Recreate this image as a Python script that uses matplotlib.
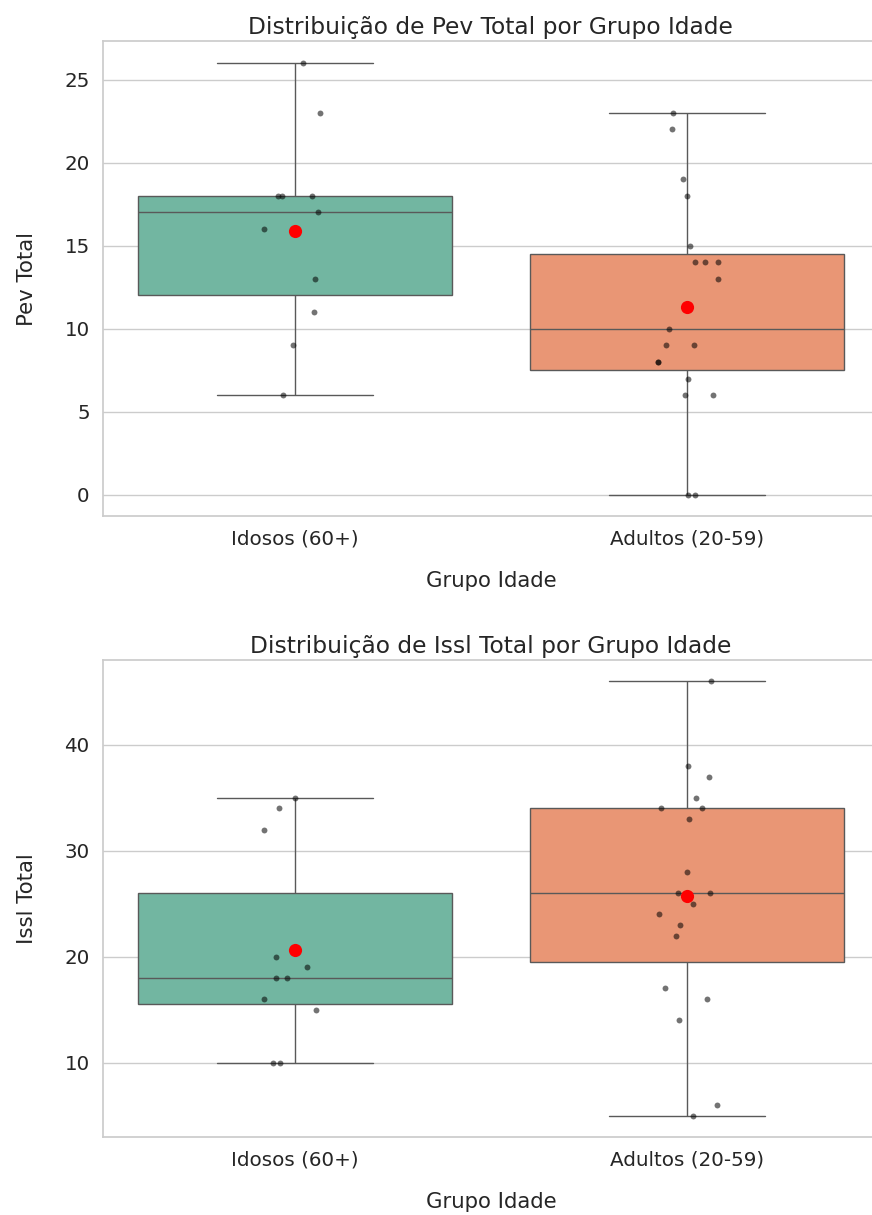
import numpy as np
import pandas as pd
import matplotlib
matplotlib.use("Agg")
import matplotlib.pyplot as plt
import seaborn as sns

# Age groups and the individual scores per group
groups = ["Idosos (60+)", "Adultos (20-59)"]
pev_idosos = [26, 23, 18, 18, 18, 17, 16, 13, 11, 9, 6]
pev_adultos = [23, 22, 19, 18, 15, 14, 14, 14, 13, 10, 9, 9, 8, 8, 7, 6, 6, 0, 0]
issl_idosos = [35, 34, 32, 20, 19, 18, 18, 16, 15, 10, 10]
issl_adultos = [46, 38, 37, 35, 34, 34, 33, 28, 26, 26, 25, 24, 23, 22, 17, 16,
                14, 6, 5]

metrics = [
    ("Pev Total", pev_idosos, pev_adultos),
    ("Issl Total", issl_idosos, issl_adultos),
]

sns.set_theme(style="whitegrid")
plt.rcParams["font.family"] = ["DejaVu Sans"]
plt.rcParams["xtick.labelsize"] = 14.3
plt.rcParams["ytick.labelsize"] = 14.3
plt.rcParams["axes.labelsize"] = 15.3
plt.rcParams["axes.titlesize"] = 16.8

fig = plt.figure(figsize=(8.72, 12.15), dpi=100)
ax_boxes = [
    (0.118, 0.575, 0.890, 0.391),
    (0.118, 0.064, 0.890, 0.393),
]

rng = np.random.default_rng(7)

for (name, vals_old, vals_adult), rect in zip(metrics, ax_boxes):
    ax = fig.add_axes(rect)
    df = pd.DataFrame({
        "Grupo Idade": [groups[0]] * len(vals_old) + [groups[1]] * len(vals_adult),
        name: vals_old + vals_adult,
    })
    sns.boxplot(data=df, x="Grupo Idade", y=name, hue="Grupo Idade",
                order=groups, hue_order=groups, palette="Set2",
                legend=False, showfliers=False, ax=ax)

    # jittered individual observations
    for i, g in enumerate(groups):
        y = df.loc[df["Grupo Idade"] == g, name].to_numpy()
        x = i + rng.uniform(-0.08, 0.08, size=len(y))
        ax.scatter(x, y, s=18, color="black", alpha=0.55, linewidths=0,
                   zorder=4)

    # group means
    means = df.groupby("Grupo Idade")[name].mean().reindex(groups)
    ax.scatter(range(len(groups)), means.values, s=90, color="red",
               linewidths=0, zorder=5)

    ax.set_title(f"Distribuição de {name} por Grupo Idade", pad=5)
    ax.set_xlabel("Grupo Idade", labelpad=16)
    ax.set_ylabel(name, labelpad=20)

fig.savefig("out.png", dpi=100)
